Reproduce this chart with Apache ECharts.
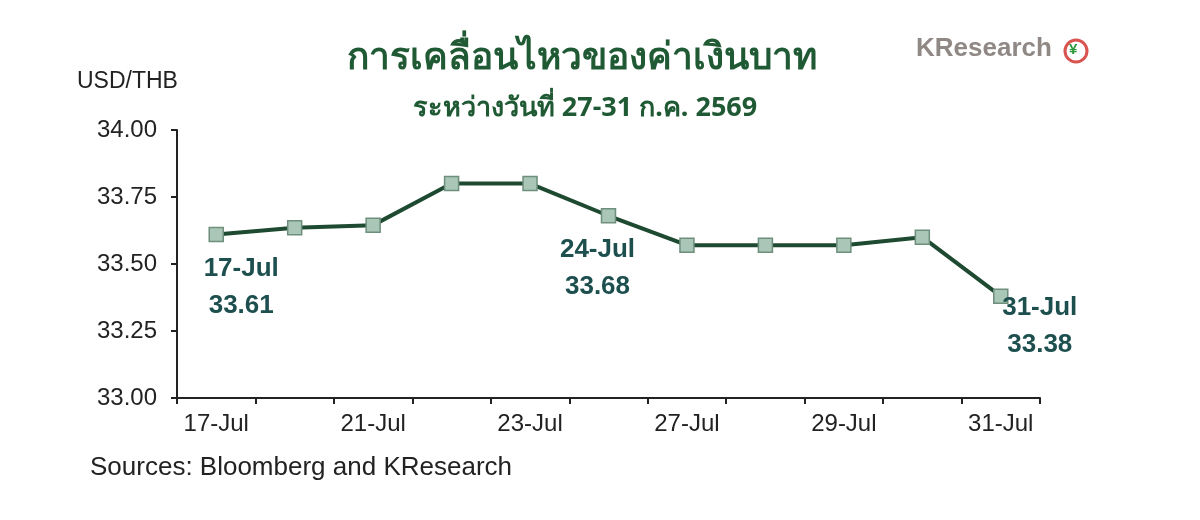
<!DOCTYPE html>
<html><head><meta charset="utf-8">
<script src="https://cdn.jsdelivr.net/npm/echarts@6/dist/echarts.min.js"></script>
<style>html,body{margin:0;background:#fff}#c{width:1200px;height:520px}</style>
</head><body><div id="c"></div>
<script>
var categories = ['17-Jul','20-Jul','21-Jul','22-Jul','23-Jul','24-Jul','27-Jul','28-Jul','29-Jul','30-Jul','31-Jul'];
var values = [33.61, 33.635, 33.645, 33.80, 33.80, 33.68, 33.57, 33.57, 33.57, 33.60, 33.38];
var annotated = {0:'17-Jul\n33.61', 5:'24-Jul\n33.68', 10:'31-Jul\n33.38'};
var annOffset = {0:[25,53], 5:[-11,53], 10:[39,30]};
var font = 'Arial, "Liberation Sans", sans-serif';
var data = values.map(function(v,i){
  var d = {value:v};
  if (annotated[i]) d.label = {show:true, position:'inside', offset:annOffset[i], formatter:annotated[i],
    color:'#1e4f4f', fontSize:26, fontWeight:'bold', lineHeight:37, fontFamily:font};
  return d;
});
var chart = echarts.init(document.getElementById('c'));
chart.setOption({
  animation:false,
  title:[{text:'การเคลื่อนไหวของค่าเงินบาท', left:577, textAlign:'center', top:35,
    textStyle:{color:'#1f5a34', fontSize:37, fontWeight:'bold', fontFamily:'"Noto Sans", sans-serif'}},
    {text:'ระหว่างวันที่ 27-31 ก.ค. 2569', left:580, textAlign:'center', top:90,
    textStyle:{color:'#1f5a34', fontSize:27, fontWeight:'bold', fontFamily:'"Noto Sans", sans-serif'}}],
  graphic:[
    {type:'text', left:77, top:70, style:{text:'USD/THB', fill:'#222', font:'23px '+font}},
    {type:'text', left:90, top:455, style:{text:'Sources: Bloomberg and KResearch', fill:'#222', font:'26px '+font}},
    {type:'text', left:916, top:36, style:{text:'KResearch', fill:'#8f8885', font:'bold 26px "Liberation Sans Narrow", Arial, sans-serif'}},
    {type:'circle', shape:{cx:1076, cy:51, r:11}, style:{fill:'#fff', stroke:'#d9534f', lineWidth:3}},
    {type:'text', left:1069, top:42, style:{text:'¥', fill:'#2e9a3e', font:'bold 15px '+font}}
  ],
  grid:{left:177, right:160, top:130, bottom:122},
  xAxis:{type:'category', data:categories, boundaryGap:true,
    axisLine:{lineStyle:{color:'#222', width:2}},
    axisTick:{show:true, length:6, interval:0, lineStyle:{color:'#222', width:2}},
    axisLabel:{interval:1, color:'#222', fontSize:24, fontFamily:font, margin:14}},
  yAxis:{type:'value', min:33, max:34, interval:0.25, splitLine:{show:false},
    axisLine:{show:true, lineStyle:{color:'#222', width:2}},
    axisTick:{show:true, length:6, lineStyle:{color:'#222', width:2}},
    axisLabel:{color:'#222', fontSize:24, fontFamily:font, margin:20, formatter:function(v){return v.toFixed(2);}}},
  series:[{type:'line', data:data, symbol:'rect', symbolSize:14,
    lineStyle:{color:'#1d4a30', width:4},
    itemStyle:{color:'#a9c6b6', borderColor:'#6f8f7d', borderWidth:1.5}}]
});
</script></body></html>
